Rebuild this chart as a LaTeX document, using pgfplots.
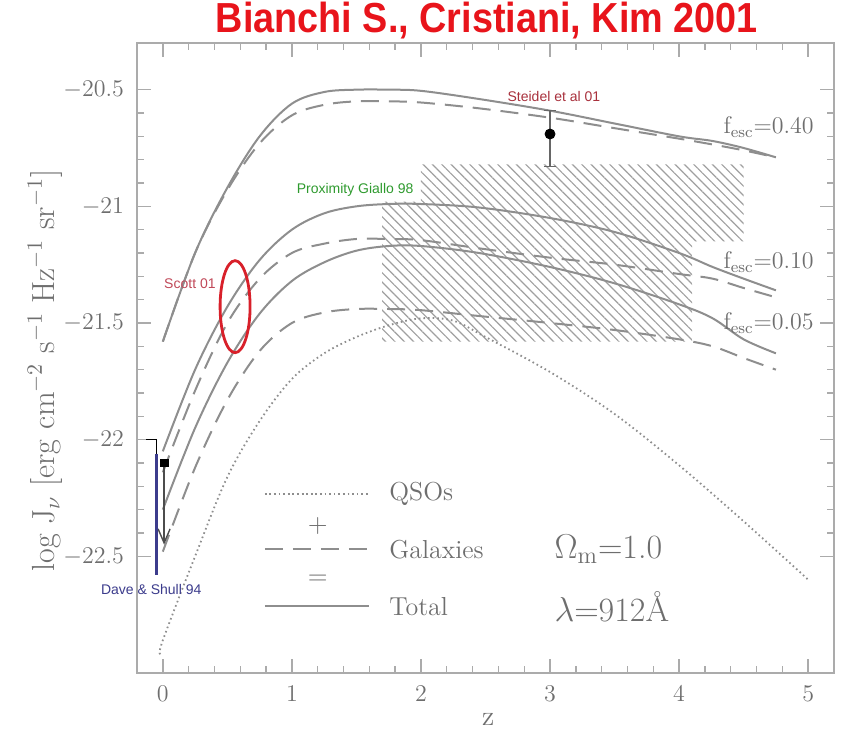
\documentclass[border=0pt]{standalone}
\usepackage{fontspec}
\setsansfont{Liberation Sans}
\usepackage{graphicx}
\usepackage{pgfplots}
\pgfplotsset{compat=1.18}
\usetikzlibrary{patterns.meta, arrows.meta}
\definecolor{curve}{HTML}{8E8E8E}
\definecolor{frame}{HTML}{ABABAB}
\definecolor{txt}{HTML}{6E6E6E}
\definecolor{titlered}{HTML}{E8141B}
\definecolor{steidel}{HTML}{A8303C}
\definecolor{prox}{HTML}{2E9A2E}
\definecolor{scott}{HTML}{C04858}
\definecolor{dave}{HTML}{3C3C8C}
\definecolor{ellred}{HTML}{D8202A}

\pgfplotstableread{
z y
0 -21.58
0.25 -21.20
0.5 -20.92
0.75 -20.70
1.0 -20.56
1.25 -20.51
1.5 -20.50
1.75 -20.50
2.0 -20.505
2.45 -20.54
3.0 -20.59
3.5 -20.645
4.0 -20.70
4.26 -20.72
4.5 -20.75
4.75 -20.79
}\totforty
\pgfplotstableread{
z y
0 -21.58
0.25 -21.20
0.5 -20.93
0.75 -20.73
1.0 -20.61
1.25 -20.565
1.5 -20.55
1.75 -20.55
2.0 -20.555
2.45 -20.58
3.0 -20.62
3.5 -20.665
4.0 -20.71
4.26 -20.735
4.5 -20.76
4.75 -20.79
}\galforty
\pgfplotstableread{
z y
0 -22.05
0.25 -21.70
0.5 -21.43
0.75 -21.23
1.0 -21.10
1.25 -21.03
1.5 -21.00
1.75 -20.99
2.0 -20.99
2.45 -21.005
3.0 -21.05
3.5 -21.11
4.0 -21.20
4.26 -21.26
4.5 -21.31
4.75 -21.36
}\totten
\pgfplotstableread{
z y
0 -22.14
0.25 -21.79
0.5 -21.50
0.75 -21.31
1.0 -21.20
1.25 -21.16
1.5 -21.14
1.75 -21.14
2.0 -21.145
2.45 -21.18
3.0 -21.22
3.5 -21.25
4.0 -21.29
4.26 -21.31
4.5 -21.35
4.75 -21.39
}\galten
\pgfplotstableread{
z y
0 -22.30
0.25 -21.95
0.5 -21.67
0.75 -21.46
1.0 -21.32
1.25 -21.24
1.5 -21.19
1.75 -21.17
2.0 -21.17
2.45 -21.20
3.0 -21.26
3.5 -21.33
4.0 -21.42
4.26 -21.48
4.5 -21.57
4.75 -21.63
}\totfive
\pgfplotstableread{
z y
0 -22.48
0.25 -22.12
0.5 -21.83
0.75 -21.62
1.0 -21.50
1.25 -21.455
1.5 -21.44
1.75 -21.44
2.0 -21.445
2.45 -21.47
3.0 -21.50
3.5 -21.53
4.0 -21.57
4.26 -21.60
4.5 -21.65
4.75 -21.70
}\galfive
\pgfplotstableread{
z y
-0.02 -22.92
0 -22.86
0.25 -22.50
0.5 -22.16
0.75 -21.92
1.0 -21.74
1.25 -21.63
1.5 -21.56
1.75 -21.51
2.0 -21.48
2.25 -21.49
2.5 -21.56
3.0 -21.71
3.5 -21.89
4.0 -22.11
4.5 -22.35
5.0 -22.60
}\qso

\begin{document}
\begin{tikzpicture}
\path[use as bounding box] (0,0) rectangle (423pt,370pt);
\begin{axis}[
  at={(68.5pt,33.5pt)}, anchor=south west,
  width=348.5pt, height=315pt, scale only axis,
  xmin=-0.2, xmax=5.2, ymin=-23, ymax=-20.3,
  clip=false,
  axis line style={frame, line width=0.8pt},
  tick style={frame, line width=0.7pt},
  tick align=inside,
  major tick length=7pt, minor tick length=3.5pt,
  xtick={0,1,2,3,4,5}, minor x tick num=4,
  ytick={-22.5,-22,-21.5,-21,-20.5}, minor y tick num=4,
  ticklabel style={font=\fontsize{13}{15}\selectfont, text=txt},
  yticklabel style={xshift=-3pt},
  xticklabel style={yshift=-3pt},
  xlabel={z},
  xlabel style={at={(axis description cs:0.504,-0.074)}, anchor=center, font=\fontsize{14}{16}\selectfont, text=txt},
  ylabel={log J$_\nu$ [erg cm$^{-2}$ s$^{-1}$ Hz$^{-1}$ sr$^{-1}$]},
  ylabel style={at={(axis description cs:-0.132,0.48)}, anchor=center, font=\fontsize{16}{18}\selectfont, text=txt},
]
% hatched region
\addplot[draw=none, pattern={Lines[angle=-45, distance=3.3pt, line width=0.6pt]}, pattern color=gray!75]
  coordinates {(2,-20.82) (4.5,-20.82) (4.5,-21.15) (4.1,-21.15) (4.1,-21.58) (1.7,-21.58) (1.7,-20.98) (2,-20.98)};

\pgfplotsset{totstyle/.style={curve, line width=1pt, smooth, tension=0.55},
  galstyle/.style={curve, line width=1pt, smooth, tension=0.55, dash pattern=on 9pt off 5pt},
  qsostyle/.style={curve, line width=0.9pt, smooth, tension=0.55, dash pattern=on 0.8pt off 1.5pt}}
\addplot[totstyle] table[x=z,y=y] {\totforty};
\addplot[galstyle] table[x=z,y=y] {\galforty};
\addplot[totstyle] table[x=z,y=y] {\totten};
\addplot[galstyle] table[x=z,y=y] {\galten};
\addplot[totstyle] table[x=z,y=y] {\totfive};
\addplot[galstyle] table[x=z,y=y] {\galfive};
\addplot[qsostyle] table[x=z,y=y] {\qso};

% Steidel point
\addplot[black, mark=*, mark size=2.5pt, only marks,
  error bars/.cd, y dir=both, y explicit,
  error bar style={gray!80!black, line width=0.7pt},
  error mark options={rotate=90, mark size=3pt, gray!80!black}]
  coordinates {(3,-20.69) += (0,0.10) -= (0,0.14)};

% upper limit at z=0
\addplot[gray!60!black, line width=0.7pt, -{Straight Barb[length=7pt, width=6pt]}] coordinates {(0.01,-22.10) (0.01,-22.45)};
\addplot[black, only marks, mark=square*, mark size=1.9pt] coordinates {(0.01,-22.10)};

% Dave & Shull
\addplot[black, line width=0.8pt] coordinates {(-0.13,-22.0) (-0.05,-22.0) (-0.05,-22.06)};
\addplot[dave, line width=1.2pt] coordinates {(-0.05,-22.06) (-0.05,-22.58)};

% Scott ellipse
\draw[ellred, line width=1.4pt] (axis cs:0.56,-21.43) ellipse [x radius=7.5pt, y radius=23pt];

% annotations
\node[font=\sffamily\fontsize{7}{8}\selectfont, text=steidel] at (axis cs:3.03,-20.53) {Steidel et al 01};
\node[font=\sffamily\fontsize{7}{8}\selectfont, text=prox] at (axis cs:1.49,-20.93) {Proximity Giallo 98};
\node[font=\sffamily\fontsize{7}{8}\selectfont, text=scott] at (axis cs:0.21,-21.33) {Scott 01};
\node[font=\sffamily\fontsize{7}{8}\selectfont, text=dave] at (axis cs:-0.09,-22.64) {Dave \& Shull 94};

\node[anchor=west, font=\fontsize{12}{14}\selectfont, text=txt] at (axis cs:4.29,-20.66) {f$_{\mathrm{esc}}$=0.40};
\node[anchor=west, font=\fontsize{12}{14}\selectfont, text=txt] at (axis cs:4.29,-21.24) {f$_{\mathrm{esc}}$=0.10};
\node[anchor=west, font=\fontsize{12}{14}\selectfont, text=txt] at (axis cs:4.29,-21.50) {f$_{\mathrm{esc}}$=0.05};

% legend
\addplot[qsostyle] coordinates {(0.79,-22.234) (1.6,-22.234)};
\addplot[galstyle] coordinates {(0.79,-22.47) (1.6,-22.47)};
\addplot[totstyle] coordinates {(0.79,-22.714) (1.6,-22.714)};
\node[font=\fontsize{13}{15}\selectfont, text=txt] at (axis cs:1.2,-22.37) {+};
\node[font=\fontsize{13}{15}\selectfont, text=txt] at (axis cs:1.2,-22.60) {=};
\node[anchor=west, font=\fontsize{13}{15}\selectfont, text=txt] at (axis cs:1.70,-22.234) {QSOs};
\node[anchor=west, font=\fontsize{13}{15}\selectfont, text=txt] at (axis cs:1.70,-22.47) {Galaxies};
\node[anchor=west, font=\fontsize{13}{15}\selectfont, text=txt] at (axis cs:1.70,-22.714) {Total};
\node[anchor=west, font=\fontsize{17}{19}\selectfont, text=txt] at (axis cs:2.98,-22.47) {$\Omega_{\mathrm{m}}$=1.0};
\node[anchor=west, font=\fontsize{17}{19}\selectfont, text=txt] at (axis cs:2.98,-22.714) {$\lambda$=912Å};

% title
\node[font=\sffamily\bfseries\fontsize{21}{24}\selectfont, text=titlered] at (rel axis cs:0.502,1.036) {\scalebox{0.9}[1]{Bianchi S., Cristiani, Kim 2001}};
\end{axis}
\end{tikzpicture}
\end{document}
